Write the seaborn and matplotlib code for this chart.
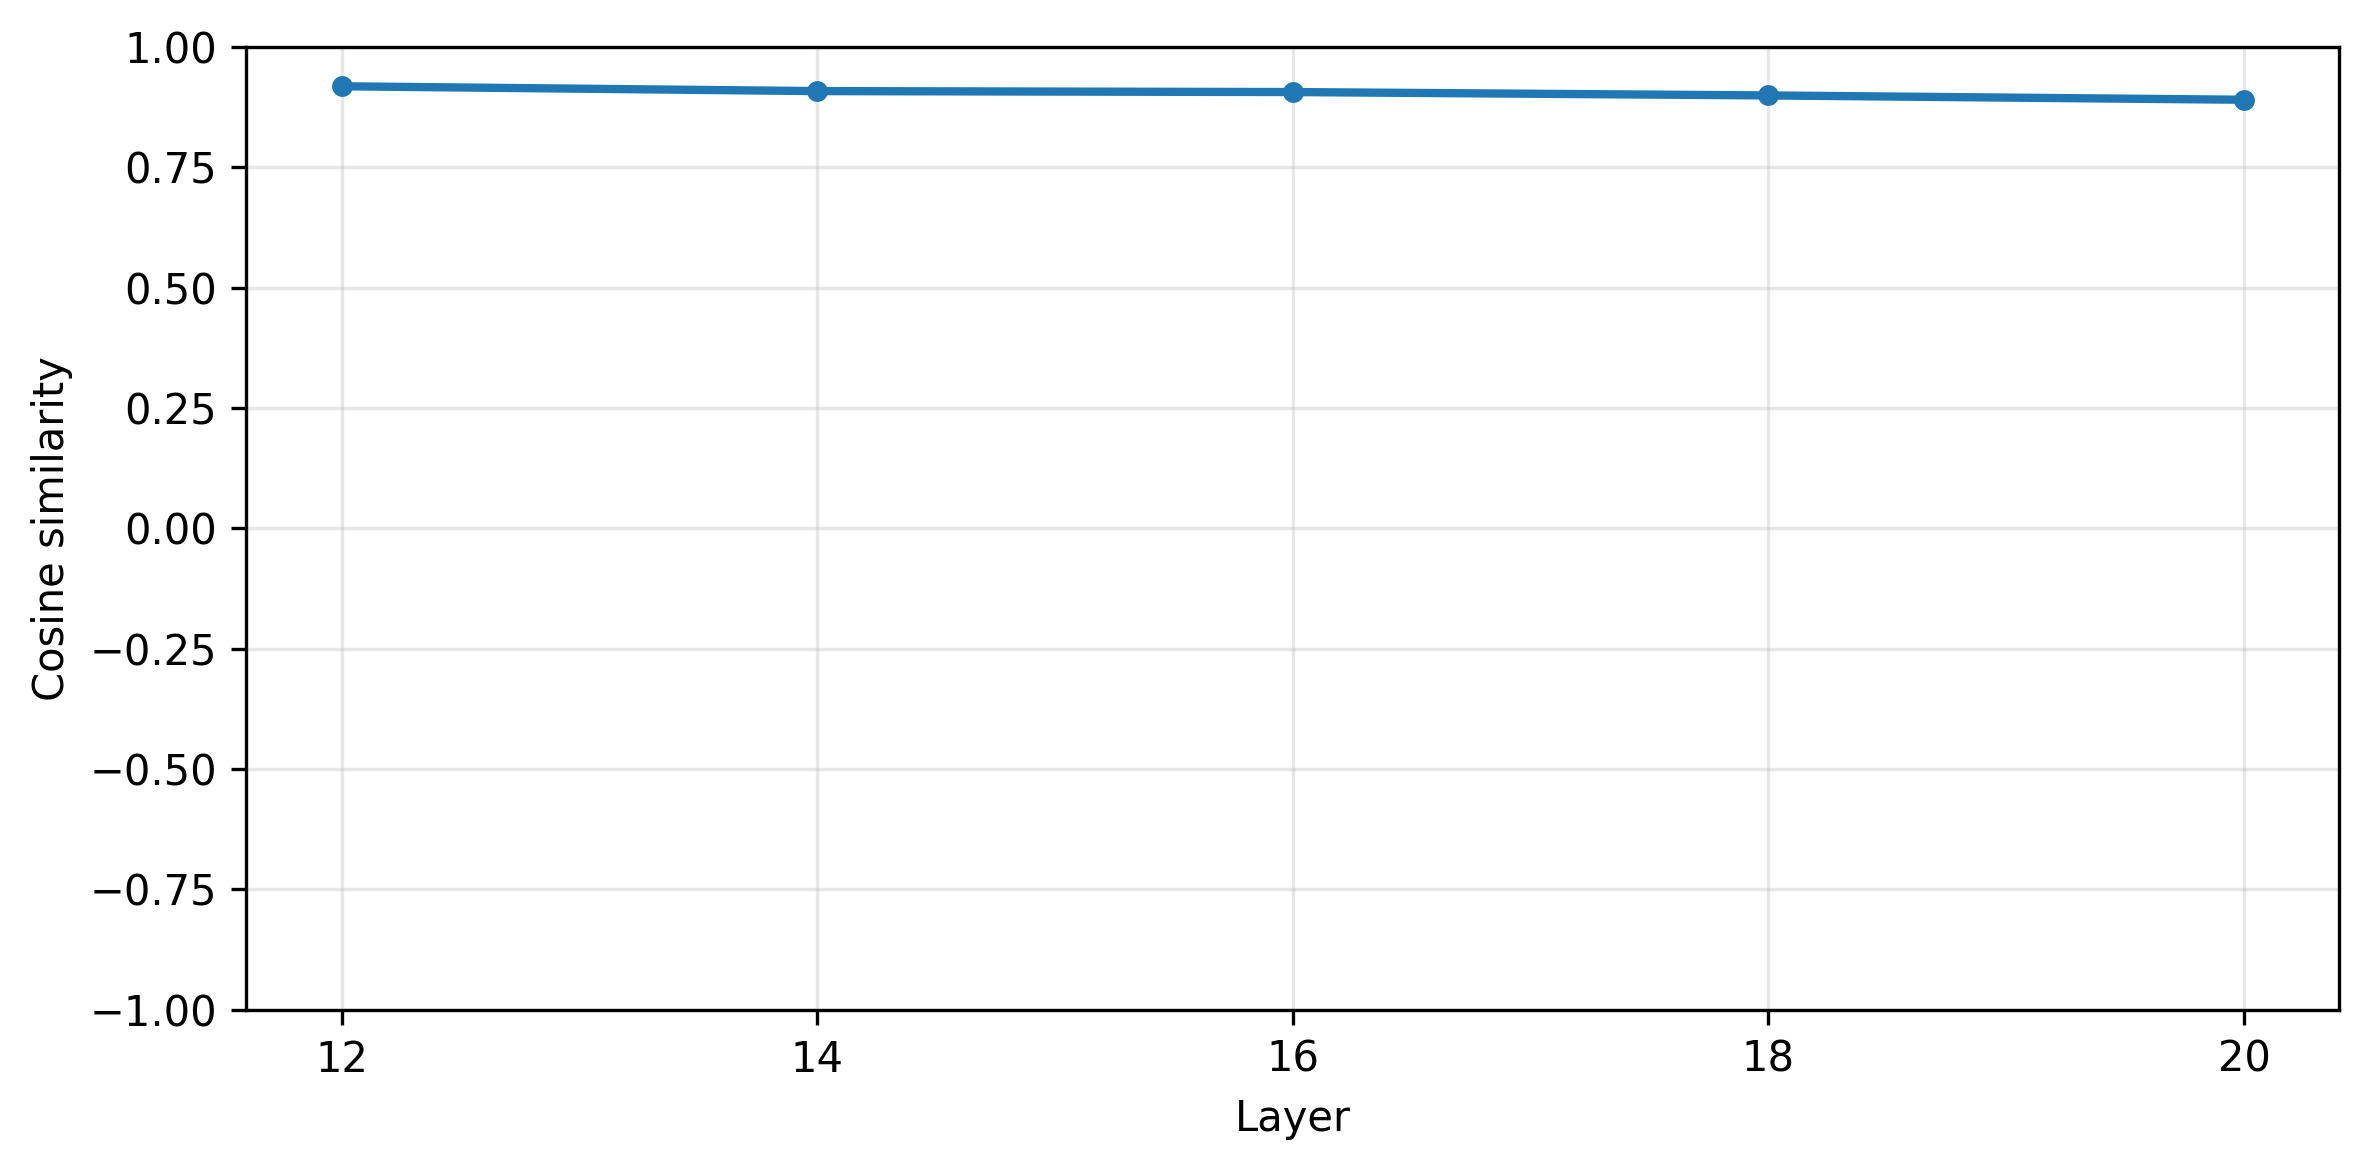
import pandas as pd
import matplotlib
matplotlib.use("Agg")
import matplotlib.pyplot as plt
import seaborn as sns

# layers and cosine similarity values
layers = [12, 14, 16, 18, 20]
cos_sim = [0.918, 0.908, 0.906, 0.899, 0.890]

data = pd.DataFrame({"Layer": layers, "Cosine similarity": cos_sim})

fig, ax = plt.subplots(figsize=(7.9, 3.9), dpi=300)
sns.lineplot(data=data, x="Layer", y="Cosine similarity", marker="o",
             color="#1f77b4", linewidth=2, markersize=5, markeredgewidth=0, ax=ax)
ax.set_ylim(-1, 1)
ax.set_xticks(layers)
ax.grid(True, alpha=0.3)
ax.set_xlabel("Layer")
ax.set_ylabel("Cosine similarity")
fig.subplots_adjust(left=0.104, right=0.987, top=0.96, bottom=0.137)
fig.savefig("out.png", dpi=300)
